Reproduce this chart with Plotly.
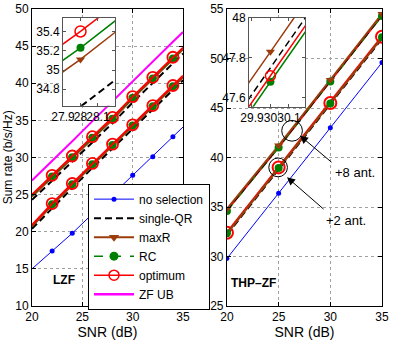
import plotly.graph_objects as go

# ---- data ----
# LZF panel (left)
snr_lzf = [20, 22, 24, 26, 28, 30, 32, 34, 35]
lzf_nosel = [15.0, 17.4, 19.8, 22.4, 25.0, 27.6, 30.1, 32.8, 34.1]
lzf_zfub = [26.9, 29.5, 32.2, 34.9, 37.6, 40.2, 42.9, 45.6, 46.9]
# +8 antennas
lzf8_opt = [25.0, 27.6, 30.2, 32.8, 35.40, 38.2, 40.8, 43.5, 44.8]
lzf8_rc = [24.85, 27.45, 30.05, 32.65, 35.23, 38.05, 40.65, 43.35, 44.65]
lzf8_maxr = [24.75, 27.35, 29.95, 32.55, 35.11, 37.95, 40.55, 43.25, 44.55]
lzf8_qr = [24.3, 26.9, 29.5, 32.0, 34.62, 37.4, 40.0, 42.7, 44.0]
# +2 antennas
lzf2_opt = [20.9, 23.8, 26.5, 29.2, 31.8, 34.4, 37.0, 39.7, 41.0]
lzf2_rc = [20.8, 23.7, 26.4, 29.1, 31.7, 34.3, 36.9, 39.6, 40.9]
lzf2_maxr = [20.7, 23.6, 26.3, 29.0, 31.6, 34.2, 36.8, 39.5, 40.8]
lzf2_qr = [20.4, 23.2, 25.9, 28.6, 31.2, 33.8, 36.4, 39.1, 40.4]

# THP-ZF panel (right)
snr_thp = [20, 25, 30, 35]
thp_nosel = [29.8, 36.4, 43.0, 49.6]
thp8_maxr = [34.8, 41.2, 47.83, 54.5]
thp8_qr = [34.7, 41.1, 47.75, 54.4]
thp8_opt = [34.65, 41.05, 47.71, 54.35]
thp8_rc = [34.6, 41.0, 47.68, 54.3]
thp2_opt = [32.4, 39.0, 45.5, 52.2]
thp2_rc = [32.35, 38.95, 45.45, 52.15]
thp2_maxr = [32.3, 38.9, 45.4, 52.1]
thp2_qr = [32.2, 38.8, 45.3, 52.0]

legend_names = ['no selection', 'single-QR', 'maxR', 'RC', 'optimum', 'ZF UB']

BLUE, BLACK, BROWN, GREEN, RED, MAG = '#0000ff', '#000000', '#9c3c0c', '#008000', '#ff0000', '#ff00ff'
FONT = 'Liberation Sans, Arial, sans-serif'
QR_DASH = '7px,4px'

fig = go.Figure()


def line(x, y, color, width, xa, ya, dash='solid'):
    fig.add_trace(go.Scatter(x=x, y=y, mode='lines', xaxis=xa, yaxis=ya, showlegend=False,
                             line=dict(color=color, width=width, dash=dash), hoverinfo='skip'))


def marks(x, y, color, symbol, size, xa, ya, lw=1.5):
    fig.add_trace(go.Scatter(x=x, y=y, mode='markers', xaxis=xa, yaxis=ya, showlegend=False,
                             marker=dict(color=color, symbol=symbol, size=size,
                                         line=dict(color=color, width=lw)), hoverinfo='skip'))


# ---- left panel: LZF (markers only on the inner points) ----
inner = slice(1, -1)
line(snr_lzf, lzf_nosel, BLUE, 1, 'x', 'y')
marks(snr_lzf[inner], lzf_nosel[inner], BLUE, 'circle', 5, 'x', 'y', 0)
line(snr_lzf, lzf_zfub, MAG, 2, 'x', 'y')
for qr, mx, rc, op in [(lzf8_qr, lzf8_maxr, lzf8_rc, lzf8_opt), (lzf2_qr, lzf2_maxr, lzf2_rc, lzf2_opt)]:
    line(snr_lzf, qr, BLACK, 2, 'x', 'y', QR_DASH)
    line(snr_lzf, mx, BROWN, 2, 'x', 'y')
    marks(snr_lzf[inner], mx[inner], BROWN, 'triangle-down', 8, 'x', 'y', 0)
    line(snr_lzf, rc, GREEN, 1.5, 'x', 'y', 'dash')
    marks(snr_lzf[inner], rc[inner], GREEN, 'circle', 8, 'x', 'y', 0)
    line(snr_lzf, op, RED, 2, 'x', 'y')
    marks(snr_lzf[inner], op[inner], RED, 'circle-open', 11, 'x', 'y', 1.8)

# ---- right panel: THP-ZF ----
line(snr_thp, thp_nosel, BLUE, 1, 'x2', 'y2')
marks(snr_thp, thp_nosel, BLUE, 'circle', 5, 'x2', 'y2', 0)
# +2 antennas
line(snr_thp, thp2_qr, BLACK, 2, 'x2', 'y2', QR_DASH)
line(snr_thp, thp2_opt, RED, 2.5, 'x2', 'y2')
marks(snr_thp, thp2_opt, RED, 'circle-open', 12, 'x2', 'y2', 2)
line(snr_thp, thp2_rc, GREEN, 1.5, 'x2', 'y2', 'dash')
line(snr_thp, thp2_maxr, BROWN, 2, 'x2', 'y2')
marks(snr_thp, thp2_rc, GREEN, 'circle', 8, 'x2', 'y2', 0)
# +8 antennas
line(snr_thp, thp8_opt, RED, 2, 'x2', 'y2')
line(snr_thp, thp8_rc, GREEN, 1.5, 'x2', 'y2', 'dash')
line(snr_thp, thp8_qr, BLACK, 2, 'x2', 'y2', QR_DASH)
line(snr_thp, thp8_maxr, BROWN, 2, 'x2', 'y2')
marks(snr_thp, thp8_rc, GREEN, 'circle', 8, 'x2', 'y2', 0)
marks(snr_thp, thp8_maxr, BROWN, 'triangle-down', 8, 'x2', 'y2', 0)

# ---- inset of the left panel (zoom at 28 dB) ----
line(snr_lzf, lzf_zfub, MAG, 2, 'x3', 'y3')
line(snr_lzf, lzf8_qr, BLACK, 2, 'x3', 'y3', QR_DASH)
line(snr_lzf, lzf8_maxr, BROWN, 1.5, 'x3', 'y3')
marks(snr_lzf, lzf8_maxr, BROWN, 'triangle-down', 8, 'x3', 'y3', 0)
line(snr_lzf, lzf8_rc, GREEN, 1.5, 'x3', 'y3')
marks(snr_lzf, lzf8_rc, GREEN, 'circle', 8, 'x3', 'y3', 0)
line(snr_lzf, lzf8_opt, RED, 1.5, 'x3', 'y3')
marks(snr_lzf, lzf8_opt, RED, 'circle-open', 11, 'x3', 'y3', 1.5)

# ---- inset of the right panel (zoom at 30 dB) ----
line(snr_thp, thp8_qr, BLACK, 1.5, 'x4', 'y4', QR_DASH)
line(snr_thp, thp8_maxr, BROWN, 1.5, 'x4', 'y4')
marks(snr_thp, thp8_maxr, BROWN, 'triangle-down', 8, 'x4', 'y4', 0)
line(snr_thp, thp8_rc, GREEN, 1.5, 'x4', 'y4')
marks(snr_thp, thp8_rc, GREEN, 'circle', 8, 'x4', 'y4', 0)
line(snr_thp, thp8_opt, RED, 1.5, 'x4', 'y4')
marks(snr_thp, thp8_opt, RED, 'circle-open', 10, 'x4', 'y4', 1.5)

# ---- legend entries ----
leg_style = [
    dict(mode='lines+markers', line=dict(color=BLUE, width=1), marker=dict(color=BLUE, size=5)),
    dict(mode='lines', line=dict(color=BLACK, width=2, dash=QR_DASH)),
    dict(mode='lines+markers', line=dict(color=BROWN, width=2), marker=dict(color=BROWN, symbol='triangle-down', size=9)),
    dict(mode='lines+markers', line=dict(color=GREEN, width=1.5, dash='dash'), marker=dict(color=GREEN, size=9)),
    dict(mode='lines+markers', line=dict(color=RED, width=1.5),
         marker=dict(color=RED, symbol='circle-open', size=10, line=dict(width=1.5))),
    dict(mode='lines', line=dict(color=MAG, width=2.5)),
]
for name, st in zip(legend_names, leg_style):
    fig.add_trace(go.Scatter(x=[None], y=[None], name=name, xaxis='x', yaxis='y', **st))

ax_common = dict(showline=True, linecolor='black', linewidth=1, mirror='ticks', ticks='inside',
                 ticklen=4, tickcolor='black', zeroline=False, showgrid=True, gridcolor='#a0a0a0',
                 griddash='dot', gridwidth=1, tickfont=dict(size=12, color='black'), automargin=False)
inset_common = dict(showline=True, linecolor='#555555', linewidth=1, mirror='ticks', ticks='inside',
                    ticklen=3, tickcolor='#555555', zeroline=False, showgrid=False, tickangle=0,
                    tickfont=dict(size=12, color='black'), automargin=False)

fig.update_layout(
    width=395, height=342,
    margin=dict(l=32, r=13, t=9, b=36, autoexpand=False),
    paper_bgcolor='white', plot_bgcolor='white',
    font=dict(family=FONT, size=12, color='black'),
    xaxis=dict(domain=[0, 0.4314], range=[20, 35], dtick=5, anchor='y',
               title=dict(text='SNR (dB)', standoff=2), **ax_common),
    yaxis=dict(domain=[0, 1], range=[10, 50], dtick=5, anchor='x', **ax_common),
    xaxis2=dict(domain=[0.557, 1], range=[20, 35], dtick=5, anchor='y2',
                title=dict(text='SNR (dB)', standoff=2), **ax_common),
    yaxis2=dict(domain=[0, 1], range=[25, 55], dtick=5, anchor='x2', **ax_common),
    xaxis3=dict(domain=[0.0886, 0.237], range=[27.9, 28.197], anchor='y3',
                tickvals=[27.9, 28, 28.1], ticktext=['27.9', '28', '28.1'], **inset_common),
    yaxis3=dict(domain=[0.6745, 0.9698], range=[34.63, 35.54], anchor='x3',
                tickvals=[34.8, 35, 35.2, 35.4], ticktext=['34.8', '35', '35.2', '35.4'], **inset_common),
    xaxis4=dict(domain=[0.62, 0.78], range=[29.884, 30.187], anchor='y4',
                tickvals=[29.9, 30, 30.1], ticktext=['29.9', '30', '30.1'], **inset_common),
    yaxis4=dict(domain=[0.6711, 0.9698], range=[47.555, 48.0], anchor='x4',
                tickvals=[47.6, 47.8, 48], ticktext=['47.6', '47.8', '48'], **inset_common),
    legend=dict(x=0.16, y=0.412, xanchor='left', yanchor='top', bgcolor='white',
                bordercolor='black', borderwidth=1, font=dict(size=12), tracegroupgap=0,
                itemwidth=40),
    showlegend=True,
)

# y axis title of the left panel
fig.add_annotation(x=-0.069, y=0.5, xref='paper', yref='paper', text='Sum rate (b/s/Hz)',
                   textangle=-90, showarrow=False, xanchor='center', yanchor='middle',
                   font=dict(size=12))

# panel labels
fig.add_annotation(x=23.2, y=13.5, xref='x', yref='y', text='<b>LZF</b>', showarrow=False,
                   font=dict(size=12))
fig.add_annotation(x=22.6, y=27.3, xref='x2', yref='y2', text='<b>THP\u2013ZF</b>', showarrow=False,
                   font=dict(size=12))

# circles marking the two antenna configurations
fig.add_shape(type='circle', xref='x2', yref='y2', x0=25.3, x1=27.3, y0=41.65, y1=43.75,
              line=dict(color='black', width=1))
fig.add_shape(type='circle', xref='x2', yref='y2', x0=24.05, x1=25.85, y0=38.05, y1=39.95,
              line=dict(color='black', width=1))

# arrows and their labels
fig.add_annotation(x=27.07, y=42.2, ax=30.26, ay=39.4, xref='x2', yref='y2', axref='x2', ayref='y2',
                   text='', showarrow=True, arrowhead=2, arrowsize=1.6, arrowwidth=1, arrowcolor='black')
fig.add_annotation(x=25.81, y=38.0, ax=29.49, ay=34.66, xref='x2', yref='y2', axref='x2', ayref='y2',
                   text='', showarrow=True, arrowhead=2, arrowsize=1.6, arrowwidth=1, arrowcolor='black')
fig.add_annotation(x=32.4, y=38.5, xref='x2', yref='y2', text='+8 ant.', showarrow=False,
                   font=dict(size=13))
fig.add_annotation(x=31.5, y=33.65, xref='x2', yref='y2', text='+2 ant.', showarrow=False,
                   font=dict(size=13))

# drop the default page margin so the figure sits at the window's top-left corner
fig.write_html("out.html", config={'displayModeBar': False},
               post_script="document.body.style.margin='0';")
